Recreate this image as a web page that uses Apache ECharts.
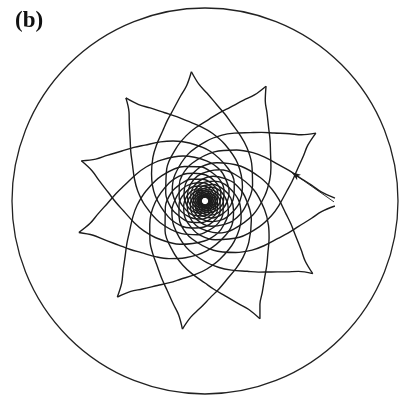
<!DOCTYPE html>
<html>
<head>
<meta charset="utf-8">
<script src="https://cdn.jsdelivr.net/npm/echarts@6/dist/echarts.min.js"></script>
<style>
  html, body { margin: 0; padding: 0; background: #fff; }
  #chart { width: 402px; height: 401px; }
</style>
</head>
<body>
<div id="chart"></div>
<script>
  // tips of the star, in the order the path reaches them (degrees, counter-clockwise from 3 o'clock)
  const cuspAngle = [1.3, 260, 162, 62, 326, 227.6, 127.5, 31.5, 295, 194, 96, 357.8]
  // one arm: angle swept from a tip and distance from the centre
  const armSweep = [0, 3, 7, 13, 19, 25, 35, 44, 57, 78, 107, 130, 148, 172, 197, 230, 264, 300, 338, 372, 404, 432, 460, 491]
  const armRadius = [130, 117, 108, 97, 89, 82, 74, 68, 60, 50, 40, 34.5, 30, 26, 22, 18.3, 15, 12.3, 10, 8, 6.5, 5.3, 4.4, 3.8]
  // start arrow: [radius, angle]
  const arrowTail = [129, 359.6]
  const arrowHead = [91.3, 18.3]
  const outerRadius = 193

  const norm = a => ((a % 360) + 360) % 360

  // each loop: in along the arm from one tip, out along the mirrored arm to the next tip
  const lobes = []
  for (let i = 0; i < cuspAngle.length - 1; i++) {
    const a0 = cuspAngle[i]
    const a1 = cuspAngle[i + 1]
    const pts = armSweep.map((s, j) => [armRadius[j], norm(a0 + s)])
    for (let j = armSweep.length - 2; j >= 0; j--) {
      pts.push([armRadius[j], norm(a1 - armSweep[j])])
    }
    lobes.push(pts)
  }

  const chart = echarts.init(document.getElementById('chart'))
  const series = lobes.map(pts => ({
    type: 'line',
    coordinateSystem: 'polar',
    data: pts,
    showSymbol: false,
    smooth: 0.35,
    silent: true,
    lineStyle: { color: '#1c1c1c', width: 1.4 }
  }))
  series.push({
    type: 'line',
    coordinateSystem: 'polar',
    silent: true,
    data: [
      { value: arrowTail, symbol: 'none' },
      { value: arrowHead, symbol: 'arrow', symbolSize: [5, 9], symbolRotate: 55 }
    ],
    showSymbol: true,
    lineStyle: { color: '#1c1c1c', width: 0.9 },
    itemStyle: { color: '#1c1c1c' }
  })

  chart.setOption({
    animation: false,
    backgroundColor: '#fff',
    title: {
      text: '(b)',
      left: 10,
      top: 5,
      textStyle: { fontFamily: 'Liberation Serif', fontWeight: 'bold', fontSize: 23, color: '#111' }
    },
    polar: { center: [205, 201], radius: outerRadius },
    angleAxis: {
      type: 'value', min: 0, max: 360, startAngle: 0, clockwise: false,
      axisLine: { lineStyle: { color: '#222', width: 1.3 } },
      axisTick: { show: false }, axisLabel: { show: false },
      splitLine: { show: false }, splitArea: { show: false }
    },
    radiusAxis: {
      type: 'value', min: 0, max: outerRadius,
      axisLine: { show: false }, axisTick: { show: false }, axisLabel: { show: false },
      splitLine: { show: false }, splitArea: { show: false }
    },
    series: series
  })
</script>
</body>
</html>
